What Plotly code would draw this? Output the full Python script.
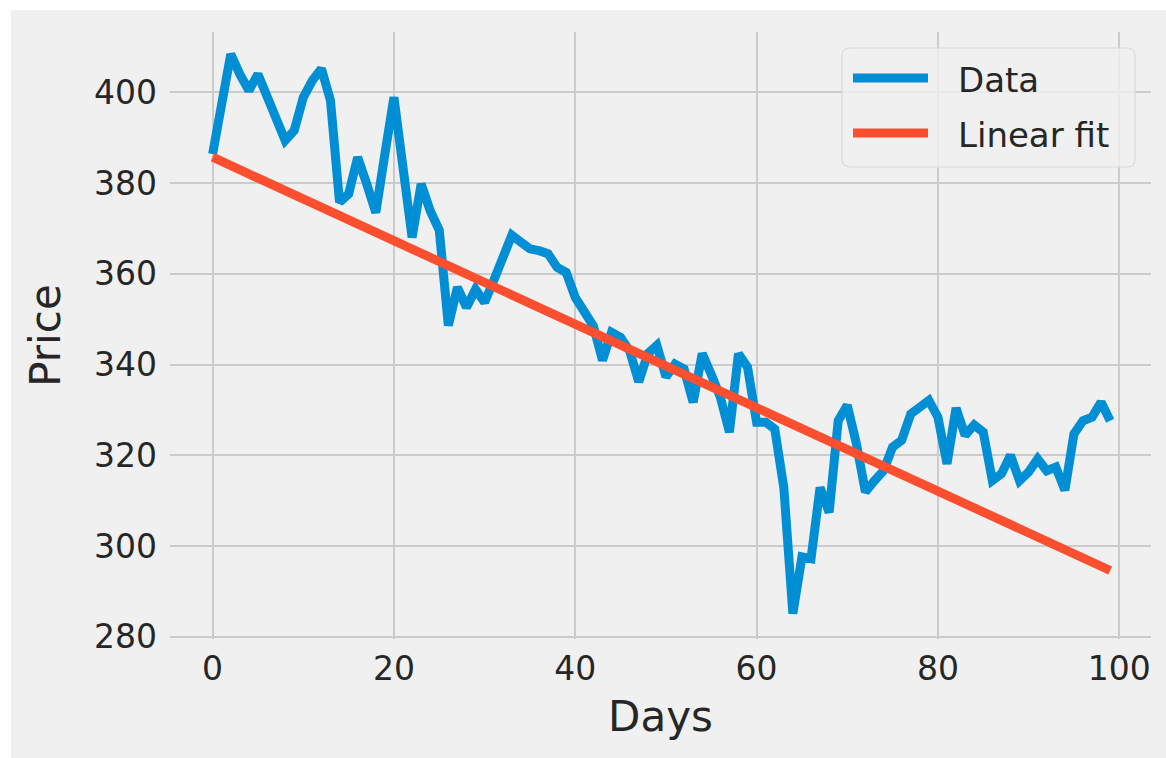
import plotly.graph_objects as go

days = list(range(100))
price = [
    386.4, 397.5, 408.4, 404.0, 400.4, 404.0, 398.9, 393.8, 389.4, 391.6,
    398.9, 402.6, 405.2, 398.2, 375.8, 377.6, 385.7, 379.8, 373.5, 386.4,
    398.9, 383.4, 368.0, 379.8, 373.9, 369.6, 348.6, 357.0, 352.6, 356.6,
    353.7, 358.5, 363.6, 368.5, 367.0, 365.5, 365.1, 364.4, 361.4, 360.3,
    354.8, 351.9, 348.5, 340.9, 347.1, 346.0, 343.0, 336.2, 342.4, 344.2,
    337.3, 340.1, 339.0, 331.7, 342.4, 337.8, 332.8, 325.1, 342.4, 339.4,
    327.3, 327.3, 325.8, 312.9, 285.1, 297.6, 297.2, 312.9, 307.4, 327.6,
    331.0, 322.6, 311.9, 314.4, 316.6, 321.8, 323.3, 329.1, 330.6, 332.1,
    328.4, 318.1, 330.4, 324.4, 326.7, 325.1, 314.4, 315.9, 320.0, 314.4,
    316.3, 319.2, 316.6, 317.4, 312.3, 324.7, 327.6, 328.4, 331.7, 327.6,
]
fit_days = [0, 99]
fit_price = [385.7, 294.6]

series_names = ["Data", "Linear fit"]
x_ticks = [0, 20, 40, 60, 80, 100]
y_ticks = [280, 300, 320, 340, 360, 380, 400]

BLUE = "#008fd5"
RED = "#fc4f30"
BG = "#f0f0f0"
GRID = "#cbcbcb"
FONT = "DejaVu Sans"
TXT = "#262626"

fig = go.Figure()
fig.add_trace(go.Scatter(x=days, y=price, mode="lines", name=series_names[0],
                         line=dict(color=BLUE, width=9), showlegend=False))
fig.add_trace(go.Scatter(x=fit_days, y=fit_price, mode="lines", name=series_names[1],
                         line=dict(color=RED, width=9), showlegend=False))

L, R, T, B = 170, 15, 32, 119
W, H = 1166, 758
pw = W - L - R
ph = H - T - B


def px(xp):
    return (xp - L) / pw


def py(yp):
    return (H - B - yp) / ph


shapes = [
    dict(type="rect", xref="paper", yref="paper",
         x0=-L / pw - 0.01, x1=px(11), y0=-1, y1=2,
         fillcolor="white", line=dict(width=0), layer="below"),
    dict(type="rect", xref="paper", yref="paper",
         x0=-1, x1=2, y0=py(10), y1=2,
         fillcolor="white", line=dict(width=0), layer="below"),
]

# legend box (rounded rectangle) built in paper coordinates
bx0, bx1, by0, by1, rr = 842, 1135, 48, 167, 8
path = (
    f"M {px(bx0 + rr)},{py(by0)} L {px(bx1 - rr)},{py(by0)} "
    f"Q {px(bx1)},{py(by0)} {px(bx1)},{py(by0 + rr)} "
    f"L {px(bx1)},{py(by1 - rr)} Q {px(bx1)},{py(by1)} {px(bx1 - rr)},{py(by1)} "
    f"L {px(bx0 + rr)},{py(by1)} Q {px(bx0)},{py(by1)} {px(bx0)},{py(by1 - rr)} "
    f"L {px(bx0)},{py(by0 + rr)} Q {px(bx0)},{py(by0)} {px(bx0 + rr)},{py(by0)} Z"
)
shapes.append(dict(type="path", xref="paper", yref="paper", path=path,
                   fillcolor="rgba(240,240,240,0.8)",
                   line=dict(color="#d9d9d9", width=1.2), layer="above"))

annotations = []
for name, color, yrow in zip(series_names, [BLUE, RED], [78, 133]):
    shapes.append(dict(type="line", xref="paper", yref="paper",
                       x0=px(853), x1=px(928), y0=py(yrow), y1=py(yrow),
                       line=dict(color=color, width=9), layer="above"))
    annotations.append(dict(xref="paper", yref="paper", x=px(956), y=py(yrow + 1.5),
                            xanchor="left", yanchor="middle", showarrow=False,
                            text=name, font=dict(family=FONT, size=34, color=TXT)))

fig.update_layout(
    width=W, height=H,
    margin=dict(l=L, r=R, t=T, b=B, autoexpand=False),
    paper_bgcolor=BG, plot_bgcolor=BG,
    font=dict(family=FONT, size=34, color=TXT),
    shapes=shapes,
    annotations=annotations,
    showlegend=False,
    xaxis=dict(
        range=[-4.7, 103.5], tickmode="array", tickvals=x_ticks,
        ticktext=[str(v) for v in x_ticks],
        showgrid=True, gridcolor=GRID, gridwidth=1.5, zeroline=False,
        showline=False, ticks="", ticklabelstandoff=7,
        tickfont=dict(family=FONT, size=33, color=TXT),
        title=dict(text="Days", font=dict(family=FONT, size=42, color=TXT), standoff=14),
        automargin=False,
    ),
    yaxis=dict(
        range=[279.5, 413.3], tickmode="array", tickvals=y_ticks,
        ticktext=[str(v) for v in y_ticks],
        showgrid=True, gridcolor=GRID, gridwidth=1.5, zeroline=False,
        showline=False, ticks="", ticklabelstandoff=12,
        tickfont=dict(family=FONT, size=33, color=TXT),
        title=dict(text="Price", font=dict(family=FONT, size=42, color=TXT), standoff=20),
        automargin=False,
    ),
)

fig.write_html("out.html")
